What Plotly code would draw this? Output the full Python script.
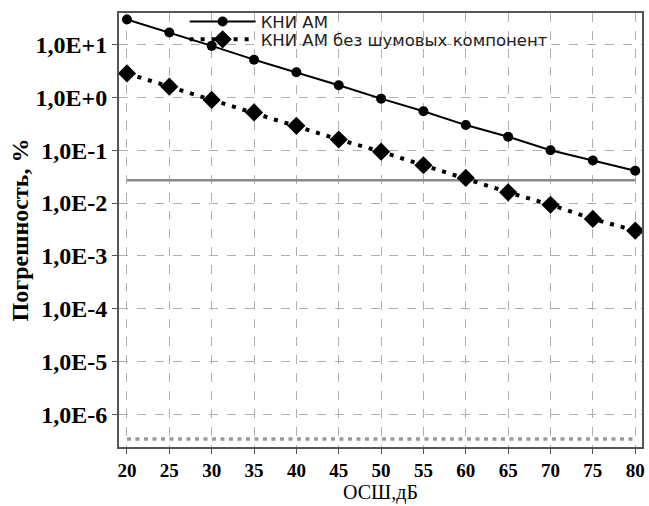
import plotly.graph_objects as go

snr_db = [20, 25, 30, 35, 40, 45, 50, 55, 60, 65, 70, 75, 80]
kni_am = [30, 17, 9.5, 5.2, 3.0, 1.7, 0.95, 0.55, 0.30, 0.18, 0.10, 0.064, 0.041]
kni_am_no_noise = [2.85, 1.6, 0.9, 0.52, 0.29, 0.16, 0.094, 0.052, 0.030, 0.016, 0.0093, 0.005, 0.003]
level_x = [20, 80]
level_upper = [0.027, 0.027]
level_lower = [3.4e-7, 3.4e-7]

y_tickvals = [1e1, 1e0, 1e-1, 1e-2, 1e-3, 1e-4, 1e-5, 1e-6]
y_ticktext = ["1,0E+1", "1,0E+0", "1,0E-1", "1,0E-2", "1,0E-3", "1,0E-4", "1,0E-5", "1,0E-6"]
x_tickvals = [20, 25, 30, 35, 40, 45, 50, 55, 60, 65, 70, 75, 80]

fig = go.Figure()
fig.add_trace(go.Scatter(x=level_x, y=level_upper, mode="lines",
                         line=dict(color="#8a8a8a", width=2.5), showlegend=False))
fig.add_trace(go.Scatter(x=level_x, y=level_lower, mode="lines",
                         line=dict(color="#9a9a9a", width=3.5, dash="4px,4.5px"), showlegend=False))
fig.add_trace(go.Scatter(x=snr_db, y=kni_am, mode="lines+markers", name="КНИ АМ",
                         line=dict(color="black", width=2),
                         marker=dict(symbol="circle", size=10, color="black"),
                         legend="legend"))
fig.add_trace(go.Scatter(x=snr_db, y=kni_am_no_noise, mode="lines+markers",
                         name="КНИ АМ без шумовых компонент",
                         line=dict(color="black", width=4, dash="4px,7px"),
                         marker=dict(symbol="diamond", size=14, color="black"),
                         legend="legend2"))

axis_line = dict(showline=True, linecolor="#555555", linewidth=2, mirror=True,
                 showgrid=True, gridcolor="#b0b0b0", griddash="dash", gridwidth=1,
                 ticks="outside", ticklen=5, tickcolor="#555555", zeroline=False)

fig.update_xaxes(range=[19.06, 80.8], tickvals=x_tickvals,
                 tickfont=dict(family="Liberation Serif", size=19, color="black", weight="bold"),
                 **axis_line)
fig.update_yaxes(type="log", range=[-6.62, 1.60], tickvals=y_tickvals, ticktext=y_ticktext,
                 tickfont=dict(family="Liberation Serif", size=24, color="black", weight="bold"),
                 title=dict(text="Погрешность, %",
                            font=dict(family="Liberation Serif", size=24, color="black", weight="bold"),
                            standoff=0),
                 **axis_line)

legend_style = dict(xanchor="left", yanchor="top", bgcolor="rgba(0,0,0,0)",
                    font=dict(family="DejaVu Sans", size=16.5, color="#222222"),
                    itemwidth=66)

fig.update_layout(
    width=649, height=506,
    margin=dict(l=119, r=4, t=10, b=59),
    plot_bgcolor="white", paper_bgcolor="white",
    legend=dict(x=0.1255, y=1.02, **legend_style),
    legend2=dict(x=0.1255, y=0.979, **legend_style),
    annotations=[dict(text="ОСШ,дБ", xref="paper", yref="paper", x=0.5, y=0,
                      xanchor="center", yanchor="middle", yshift=-45, showarrow=False,
                      font=dict(family="Liberation Serif", size=20, color="black"))],
)

fig.write_html("out.html", config={"displayModeBar": False},
               post_script="document.body.style.margin='0px';")
